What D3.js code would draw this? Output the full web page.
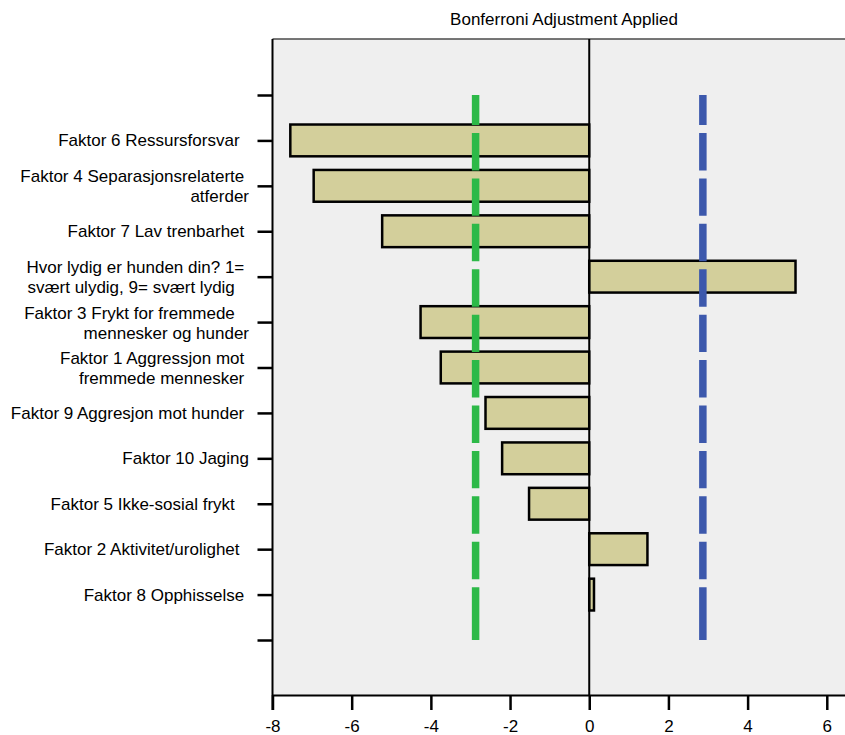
<!DOCTYPE html>
<html>
<head>
<meta charset="utf-8">
<script src="https://cdn.jsdelivr.net/npm/d3@7"></script>
<style>
  body { margin: 0; background: #fff; }
  svg { display: block; font-family: "Liberation Sans", Arial, sans-serif; }
  .lbl { white-space: pre; }
</style>
</head>
<body>
<script>
// ==== data ====
var categories = [
  "Faktor 6 Ressursforsvar",
  "Faktor 4 Separasjonsrelaterte atferder",
  "Faktor 7 Lav trenbarhet",
  "Hvor lydig er hunden din? 1= svært ulydig, 9= svært lydig",
  "Faktor 3 Frykt for fremmede mennesker og hunder",
  "Faktor 1 Aggressjon mot fremmede mennesker",
  "Faktor 9 Aggresjon mot hunder",
  "Faktor 10 Jaging",
  "Faktor 5 Ikke-sosial frykt",
  "Faktor 2 Aktivitet/urolighet",
  "Faktor 8 Opphisselse"
];
// wrapped label lines (trailing spaces as in the original labels)
var labelLines = [
  ["Faktor 6 Ressursforsvar  "],
  ["Faktor 4 Separasjonsrelaterte ", "atferder"],
  ["Faktor 7 Lav trenbarhet "],
  ["Hvor lydig er hunden din? 1= ", "svært ulydig, 9= svært lydig   "],
  ["Faktor 3 Frykt for fremmede   ", "mennesker og hunder"],
  ["Faktor 1 Aggressjon mot ", "fremmede mennesker "],
  ["Faktor 9 Aggresjon mot hunder "],
  ["Faktor 10 Jaging"],
  ["Faktor 5 Ikke-sosial frykt   "],
  ["Faktor 2 Aktivitet/urolighet  "],
  ["Faktor 8 Opphisselse "]
];
var values = [-7.55, -6.96, -5.23, 5.21, -4.26, -3.75, -2.62, -2.20, -1.52, 1.47, 0.12];
var critLow = -2.87, critHigh = 2.87;
var xTicks = [-8, -6, -4, -2, 0, 2, 4, 6];
var title = "Bonferroni Adjustment Applied";

/* ==== setup ==== */
var width = 845, height = 735;
var svg = d3.select("body").append("svg")
  .attr("width", width)
  .attr("height", height);

var plotTop = 39, plotBottom = 695, plotLeft = 272.5, plotRight = 845;

var x = d3.scaleLinear().domain([-8, 6.46]).range([plotLeft, plotRight]);

// empty slots at both ends, like the original
var slots = ["_top"].concat(categories, ["_bottom"]);
var y = d3.scalePoint().domain(slots).range([95, 640]);
var barH = y.step() * 0.7;

// plot background
svg.append("rect")
  .attr("x", plotLeft).attr("y", plotTop)
  .attr("width", plotRight - plotLeft).attr("height", plotBottom - plotTop)
  .attr("fill", "#efefef");
svg.append("line")
  .attr("x1", plotLeft).attr("x2", plotRight)
  .attr("y1", plotTop).attr("y2", plotTop)
  .attr("stroke", "#4a4a4a").attr("stroke-width", 1.5);

// title
svg.append("text")
  .attr("x", 564).attr("y", 25)
  .attr("text-anchor", "middle")
  .style("font-size", "17px")
  .text(title);

// bars
var rows = categories.map(function(c, i) { return { cat: c, value: values[i], lines: labelLines[i] }; });

svg.selectAll(".bar")
    .data(rows)
  .enter().append("rect")
    .attr("class", "bar")
    .attr("x", function(d) { return x(Math.min(0, d.value)); })
    .attr("y", function(d) { return y(d.cat) - barH / 2; })
    .attr("width", function(d) { return Math.abs(x(d.value) - x(0)); })
    .attr("height", barH)
    .attr("fill", "#d3cf9b")
    .attr("stroke", "#000")
    .attr("stroke-width", 2.5);

// zero line
svg.append("line")
  .attr("x1", x(0)).attr("x2", x(0))
  .attr("y1", plotTop).attr("y2", plotBottom)
  .attr("stroke", "#000").attr("stroke-width", 2);

// dashed reference lines: a short gap just above every category tick
function dashPath(xv) {
  var y0 = y("_top"), y1 = y("_bottom");
  var p = "M" + x(xv) + "," + y0;
  categories.forEach(function(c) {
    var g = y(c) - 11.4;
    p += "L" + x(xv) + "," + (g - 4) + "M" + x(xv) + "," + (g + 4);
  });
  return p + "L" + x(xv) + "," + y1;
}
svg.append("path")
  .attr("d", dashPath(critLow))
  .attr("stroke", "#2db948").attr("stroke-width", 7.5).attr("fill", "none");
svg.append("path")
  .attr("d", dashPath(critHigh))
  .attr("stroke", "#3c58ac").attr("stroke-width", 7.5).attr("fill", "none");

// y axis
var yAxis = svg.append("g")
  .attr("transform", "translate(" + plotLeft + ",0)")
  .call(d3.axisLeft(y).tickSize(15).tickFormat(""));
yAxis.select(".domain").remove();
yAxis.selectAll(".tick line").attr("stroke", "#000").attr("stroke-width", 2.5);
svg.append("line")
  .attr("x1", plotLeft).attr("x2", plotLeft)
  .attr("y1", plotTop).attr("y2", plotBottom + 15)
  .attr("stroke", "#000").attr("stroke-width", 2);

// category labels
var lbl = svg.selectAll(".lbl")
    .data(rows)
  .enter().append("text")
    .attr("class", "lbl")
    .attr("text-anchor", "end")
    .style("font-size", "17px");
lbl.each(function(d) {
  var t = d3.select(this);
  var yc = y(d.cat);
  d.lines.forEach(function(line, k) {
    var off = d.lines.length === 1 ? 0 : (k === 0 ? -9.5 : 10.5);
    t.append("tspan")
      .attr("x", 249)
      .attr("y", yc + off)
      .attr("dy", "0.35em")
      .text(line);
  });
});

// x axis (plain hyphen for negatives, like the original)
var xAxis = svg.append("g")
  .attr("transform", "translate(0," + plotBottom + ")")
  .call(d3.axisBottom(x).tickValues(xTicks).tickSize(15).tickPadding(10).tickSizeOuter(0)
    .tickFormat(function(d) { return String(d); }));
xAxis.select(".domain").attr("stroke", "#000").attr("stroke-width", 2);
xAxis.selectAll(".tick line").attr("stroke", "#000").attr("stroke-width", 2.5);
xAxis.selectAll(".tick text")
  .attr("fill", "#000")
  .style("font-size", "17px")
  .style("font-family", "'Liberation Sans', Arial, sans-serif");
</script>
</body>
</html>
